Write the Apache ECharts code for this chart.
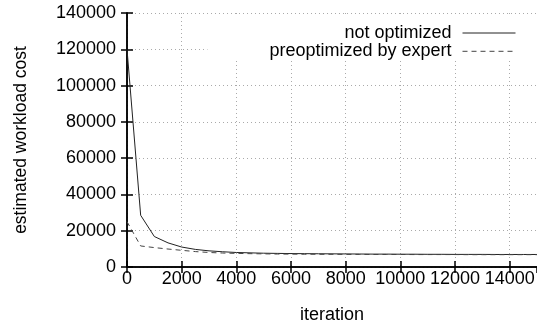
<!DOCTYPE html>
<html>
<head>
<meta charset="utf-8">
<script src="https://cdn.jsdelivr.net/npm/echarts@6/dist/echarts.min.js"></script>
<style>
  html, body { margin: 0; padding: 0; background: #fff; }
  #chart { width: 537px; height: 324px; }
</style>
</head>
<body>
<div id="chart"></div>
<script>
var myChart = echarts.init(document.getElementById('chart'));

// data
var iterations = [0, 500, 1000, 1500, 2000, 2500, 3000, 3500, 4000, 4500, 5000, 5500,
    6000, 6500, 7000, 7500, 8000, 8500, 9000, 9500, 10000, 10500, 11000, 11500,
    12000, 12500, 13000, 13500, 14000, 14500, 15000];
var notOptimized = [120000, 28500, 16800, 13300, 11000, 9700, 8900, 8400, 8000, 7800, 7600, 7500,
    7400, 7350, 7300, 7250, 7200, 7150, 7100, 7100, 7050, 7050, 7000, 7000,
    6950, 6950, 6950, 6900, 6900, 6900, 6900];
var preoptimized = [25000, 11600, 10700, 9900, 9200, 8500, 8000, 7700, 7500, 7350, 7250, 7150,
    7100, 7050, 7000, 7000, 6950, 6950, 6900, 6900, 6900, 6850, 6850, 6850,
    6850, 6800, 6800, 6800, 6800, 6800, 6800];
var seriesNames = ['not optimized', 'preoptimized by expert'];

function pairs(ys) {
    return iterations.map(function (x, i) { return [x, ys[i]]; });
}

var font = 'Liberation Sans';
var axisLineStyle = { color: '#000', width: 1.5 };
var gridLineStyle = { color: '#aaa', width: 1, type: [1, 3] };
var plainNumber = function (v) { return String(v); };

var option = {
    animation: false,
    textStyle: { fontFamily: font },
    grid: { left: 127, right: 0, top: 13, bottom: 57, outerBoundsMode: 'none' },
    legend: {
        data: seriesNames,
        orient: 'vertical',
        align: 'right',
        right: 0,
        top: 14,
        padding: [10, 21, 0, 62],
        backgroundColor: '#fff',
        itemWidth: 53,
        itemHeight: 18,
        itemGap: 0.3,
        selectedMode: false,
        itemStyle: { opacity: 0 },
        lineStyle: { width: 1 },
        textStyle: { fontSize: 18, color: '#000', fontFamily: font, padding: [0, 6, 0, 0] }
    },
    xAxis: [{
        type: 'value',
        min: 0, max: 15000, interval: 2000,
        name: 'iteration',
        nameLocation: 'middle',
        nameGap: 39,
        nameTextStyle: { fontSize: 18, color: '#000' },
        axisLine: { show: true, lineStyle: axisLineStyle },
        axisTick: { show: true, inside: true, length: 6, lineStyle: axisLineStyle },
        axisLabel: { fontSize: 18, color: '#000', margin: 3, showMaxLabel: false, formatter: plainNumber },
        splitLine: { show: true, lineStyle: gridLineStyle }
    }, {
        type: 'value',
        position: 'top',
        min: 0, max: 15000, interval: 2000,
        axisLine: { show: true, lineStyle: axisLineStyle },
        axisTick: { show: true, inside: true, length: 6, lineStyle: axisLineStyle },
        axisLabel: { show: false },
        splitLine: { show: false }
    }],
    yAxis: [{
        type: 'value',
        min: 0, max: 140000, interval: 20000,
        name: 'estimated workload cost',
        nameLocation: 'middle',
        nameGap: 97,
        nameTextStyle: { fontSize: 17.5, color: '#000' },
        axisLine: { show: true, lineStyle: axisLineStyle },
        axisTick: { show: true, inside: true, length: 6, lineStyle: axisLineStyle },
        axisLabel: { fontSize: 18, color: '#000', margin: 11, formatter: plainNumber },
        splitLine: { show: true, lineStyle: gridLineStyle }
    }, {
        type: 'value',
        position: 'right',
        min: 0, max: 140000, interval: 20000,
        axisLine: { show: true, lineStyle: axisLineStyle },
        axisTick: { show: true, inside: true, length: 6, lineStyle: axisLineStyle },
        axisLabel: { show: false },
        splitLine: { show: false }
    }],
    series: [{
        name: seriesNames[0],
        type: 'line',
        data: pairs(notOptimized),
        symbol: 'none',
        lineStyle: { color: '#222', width: 1 },
        itemStyle: { color: '#222' }
    }, {
        name: seriesNames[1],
        type: 'line',
        data: pairs(preoptimized),
        symbol: 'none',
        lineStyle: { color: '#444', width: 1, type: [5, 4] },
        itemStyle: { color: '#444' }
    }]
};

myChart.setOption(option);
</script>
</body>
</html>
